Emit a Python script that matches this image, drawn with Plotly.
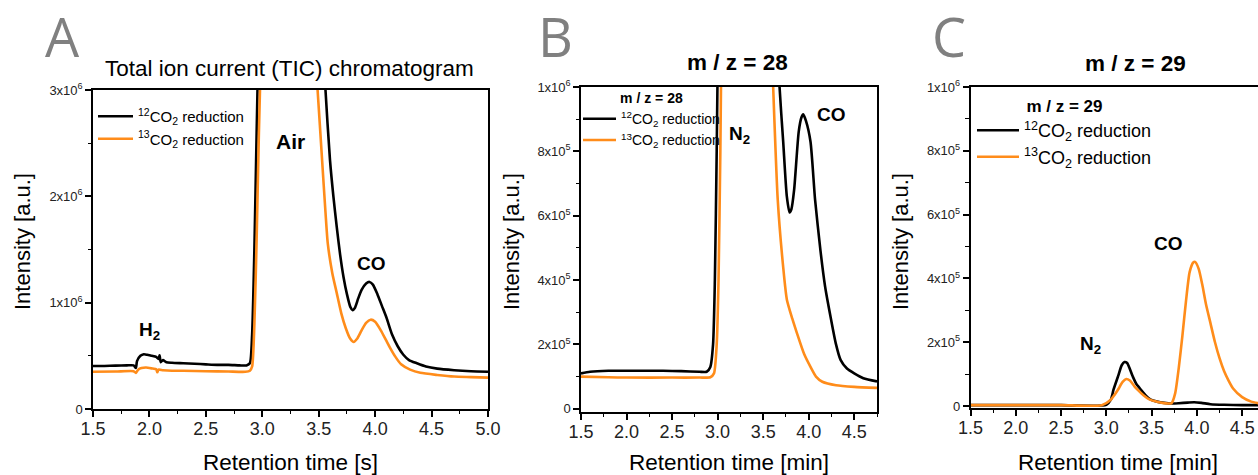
import plotly.graph_objects as go

# ---------------- Panel A: total ion current (TIC) ----------------
tic_t_12 = [1.50, 1.60, 1.70, 1.80, 1.86, 1.88, 1.89, 1.92, 1.95, 1.98, 2.02, 2.06, 2.08, 2.09,
            2.10, 2.12, 2.15, 2.20, 2.30, 2.40, 2.50, 2.60, 2.70, 2.80, 2.86, 2.89, 2.91, 2.93,
            2.95, 2.97, 3.00, 3.10, 3.25, 3.40, 3.50, 3.56, 3.60, 3.63, 3.66, 3.69, 3.72, 3.75,
            3.78, 3.80, 3.82, 3.85, 3.88, 3.92, 3.95, 3.98, 4.02, 4.06, 4.10, 4.15, 4.20, 4.25,
            4.30, 4.37, 4.45, 4.55, 4.70, 4.85, 5.00]
tic_i_12 = [0.405, 0.405, 0.408, 0.410, 0.410, 0.385, 0.450, 0.500, 0.515, 0.510, 0.500, 0.490, 0.470, 0.505,
            0.440, 0.460, 0.440, 0.435, 0.430, 0.425, 0.420, 0.415, 0.415, 0.410, 0.410, 0.430, 0.700, 1.500,
            2.600, 3.600, 4.500, 5.800, 6.200, 5.400, 4.300, 3.000, 2.340, 2.000, 1.710, 1.450, 1.240, 1.080,
            0.960, 0.930, 0.950, 1.040, 1.120, 1.180, 1.195, 1.170, 1.080, 0.970, 0.860, 0.700, 0.590, 0.510,
            0.460, 0.430, 0.400, 0.380, 0.365, 0.355, 0.350]

tic_t_13 = [1.50, 1.70, 1.86, 1.88, 1.90, 1.93, 1.97, 2.03, 2.06, 2.07, 2.08, 2.12, 2.20, 2.30,
            2.50, 2.70, 2.85, 2.89, 2.91, 2.93, 2.95, 2.97, 2.99, 3.02, 3.15, 3.30, 3.45, 3.49,
            3.53, 3.56, 3.58, 3.62, 3.66, 3.70, 3.74, 3.78, 3.81, 3.84, 3.88, 3.92, 3.96, 4.00,
            4.05, 4.10, 4.13, 4.18, 4.23, 4.31, 4.40, 4.55, 4.70, 4.85, 5.00]
tic_i_13 = [0.350, 0.352, 0.355, 0.340, 0.370, 0.385, 0.390, 0.380, 0.375, 0.345, 0.370, 0.365, 0.360, 0.360,
            0.355, 0.352, 0.350, 0.360, 0.400, 0.800, 1.600, 2.600, 3.400, 4.300, 5.500, 5.200, 3.600, 3.000,
            2.340, 1.850, 1.560, 1.280, 1.090, 0.900, 0.760, 0.660, 0.630, 0.660, 0.740, 0.810, 0.840, 0.820,
            0.740, 0.640, 0.580, 0.490, 0.420, 0.370, 0.340, 0.320, 0.305, 0.300, 0.295]

# ---------------- Panel B: m/z = 28 ----------------
mz28_t_12 = [1.50, 1.60, 1.80, 2.00, 2.20, 2.40, 2.60, 2.80, 2.88, 2.92, 2.95, 2.97, 2.99, 3.01,
             3.05, 3.20, 3.50, 3.62, 3.68, 3.72, 3.76, 3.79, 3.81, 3.84, 3.89, 3.92, 3.94, 3.97,
             4.02, 4.07, 4.13, 4.18, 4.24, 4.30, 4.35, 4.42, 4.50, 4.60, 4.75]
mz28_i_12 = [0.110, 0.115, 0.118, 0.118, 0.118, 0.118, 0.117, 0.115, 0.115, 0.130, 0.200, 0.400, 0.800, 1.300,
             2.200, 3.000, 2.200, 1.400, 1.000, 0.830, 0.660, 0.610, 0.620, 0.680, 0.860, 0.905, 0.915, 0.895,
             0.830, 0.650, 0.490, 0.380, 0.286, 0.200, 0.152, 0.125, 0.110, 0.095, 0.085]

mz28_t_13 = [1.50, 1.80, 2.00, 2.50, 2.80, 2.92, 2.96, 2.99, 3.01, 3.03, 3.05, 3.20, 3.50, 3.58,
             3.61, 3.66, 3.72, 3.76, 3.82, 3.87, 3.95, 4.02, 4.08, 4.15, 4.30, 4.50, 4.75]
mz28_i_13 = [0.100, 0.098, 0.097, 0.097, 0.097, 0.098, 0.110, 0.200, 0.400, 0.800, 1.300, 2.800, 1.800, 1.250,
             1.000, 0.650, 0.440, 0.340, 0.280, 0.236, 0.170, 0.130, 0.100, 0.084, 0.073, 0.068, 0.065]

# ---------------- Panel C: m/z = 29 ----------------
mz29_t_12 = [1.50, 2.00, 2.50, 3.00, 3.05, 3.08, 3.13, 3.17, 3.20, 3.23, 3.29, 3.33, 3.38, 3.44,
             3.49, 3.56, 3.64, 3.72, 3.80, 3.90, 3.97, 4.05, 4.15, 4.30, 4.50, 4.70]
mz29_i_12 = [0.003, 0.003, 0.003, 0.004, 0.020, 0.052, 0.094, 0.128, 0.138, 0.135, 0.094, 0.070, 0.052, 0.032,
             0.020, 0.014, 0.010, 0.008, 0.009, 0.011, 0.012, 0.010, 0.006, 0.004, 0.003, 0.003]

mz29_t_13 = [1.50, 2.00, 2.50, 2.95, 3.05, 3.09, 3.13, 3.18, 3.22, 3.26, 3.31, 3.35, 3.41, 3.47,
             3.55, 3.62, 3.68, 3.72, 3.76, 3.80, 3.84, 3.88, 3.92, 3.96, 3.98, 4.02, 4.06, 4.10,
             4.15, 4.20, 4.25, 4.30, 4.35, 4.40, 4.50, 4.60, 4.70]
mz29_i_13 = [0.003, 0.003, 0.003, 0.003, 0.020, 0.035, 0.052, 0.076, 0.085, 0.080, 0.062, 0.050, 0.034, 0.022,
             0.014, 0.010, 0.008, 0.009, 0.040, 0.120, 0.220, 0.330, 0.420, 0.450, 0.452, 0.430, 0.380, 0.320,
             0.260, 0.200, 0.150, 0.110, 0.080, 0.055, 0.028, 0.014, 0.008]

series_names = ["<sup>12</sup>CO<sub>2</sub> reduction", "<sup>13</sup>CO<sub>2</sub> reduction"]
series_colors = ["#000000", "#ff8c1a"]

# tick labels
ticks_a_vals = [0, 1e6, 2e6, 3e6]
ticks_a_text = ["0", "1x10<sup>6</sup>", "2x10<sup>6</sup>", "3x10<sup>6</sup>"]
ticks_bc_vals = [0, 2e5, 4e5, 6e5, 8e5, 1e6]
ticks_bc_text = ["0", "2x10<sup>5</sup>", "4x10<sup>5</sup>", "6x10<sup>5</sup>", "8x10<sup>5</sup>", "1x10<sup>6</sup>"]

W, H = 1258, 475
FONT = "Liberation Sans, Arial, sans-serif"


def px(x):
    return x / W


def py(y):
    return 1 - y / H


def scaled(vals):
    return [v * 1e6 for v in vals]


fig = go.Figure()

panels = [
    ("x", "y", "legend", [(tic_t_12, tic_i_12), (tic_t_13, tic_i_13)]),
    ("x2", "y2", "legend2", [(mz28_t_12, mz28_i_12), (mz28_t_13, mz28_i_13)]),
    ("x3", "y3", "legend3", [(mz29_t_12, mz29_i_12), (mz29_t_13, mz29_i_13)]),
]
for xa, ya, lg, data in panels:
    for (t, i), name, col in zip(data, series_names, series_colors):
        fig.add_trace(go.Scatter(
            x=t, y=scaled(i), mode="lines", name=name,
            line=dict(color=col, width=2.6, shape="spline", smoothing=0.6),
            xaxis=xa, yaxis=ya, legend=lg, showlegend=True,
        ))

axis_common = dict(
    showgrid=False, zeroline=False, showline=True, linecolor="black", linewidth=1.5,
    ticks="outside", ticklen=6, tickwidth=1.5, tickcolor="black", automargin=False,
)
x_common = dict(axis_common, tickmode="linear", tick0=1.5, dtick=0.5, tickformat=".1f",
                tickfont=dict(family=FONT, size=18, color="#222"), ticklabelstandoff=-3,
                minor=dict(ticks="outside", ticklen=3.5, tickwidth=1.3, tickcolor="black", dtick=0.25, tick0=1.5))
y_font = dict(family=FONT, size=13, color="#222")

fig.update_layout(
    template="none",
    width=W, height=H, margin=dict(l=0, r=0, t=0, b=0, pad=0, autoexpand=False),
    plot_bgcolor="white", paper_bgcolor="white",
    font=dict(family=FONT, color="black"),
    xaxis=dict(x_common, domain=[px(93), px(488)], range=[1.5, 5.0], anchor="y", mirror=True),
    yaxis=dict(axis_common, domain=[py(409), py(90)], range=[0, 3e6], anchor="x", mirror=True,
               tickmode="array", tickvals=ticks_a_vals, ticktext=ticks_a_text, tickfont=y_font,
               minor=dict(ticks="outside", ticklen=3.5, tickwidth=1.3, tickcolor="black",
                          tickvals=[0.5e6, 1.5e6, 2.5e6])),
    xaxis2=dict(x_common, domain=[px(581), px(877)], range=[1.5, 4.75], anchor="y2", mirror=True),
    yaxis2=dict(axis_common, domain=[py(412), py(87)], range=[-0.01e6, 1e6], anchor="x2", mirror=True,
                tickmode="array", tickvals=ticks_bc_vals, ticktext=ticks_bc_text, tickfont=y_font,
                minor=dict(ticks="outside", ticklen=3.5, tickwidth=1.3, tickcolor="black",
                           tickvals=[1e5, 3e5, 5e5, 7e5, 9e5])),
    xaxis3=dict(x_common, domain=[px(970.5), 1.0], range=[1.5, 4.675], anchor="y3", mirror=True),
    yaxis3=dict(axis_common, domain=[py(408), py(87)], range=[-0.006e6, 1e6], anchor="x3", mirror=False,
                tickmode="array", tickvals=ticks_bc_vals, ticktext=ticks_bc_text, tickfont=y_font,
                minor=dict(ticks="outside", ticklen=3.5, tickwidth=1.3, tickcolor="black",
                           tickvals=[1e5, 3e5, 5e5, 7e5, 9e5])),
    legend=dict(x=px(93), y=py(100), xanchor="left", yanchor="top", bgcolor="rgba(0,0,0,0)",
                font=dict(family=FONT, size=15, color="black"), tracegroupgap=0, itemwidth=35),
    legend2=dict(x=px(578), y=py(85), xanchor="left", yanchor="top", bgcolor="rgba(0,0,0,0)",
                 font=dict(family=FONT, size=14, color="black"), itemwidth=33,
                 title=dict(text="<b>m / z = 28</b>", side="top center",
                            font=dict(family=FONT, size=14, color="black"))),
    legend3=dict(x=px(972), y=py(90), xanchor="left", yanchor="top", bgcolor="rgba(0,0,0,0)",
                 font=dict(family=FONT, size=18, color="black"), itemwidth=42,
                 title=dict(text="<b>m / z = 29</b>", side="top center",
                            font=dict(family=FONT, size=17, color="black"))),
)

ann = []
# panel letters
for letter, cx in [("A", 62), ("B", 555), ("C", 949)]:
    ann.append(dict(text=letter, x=px(cx), y=py(36), xref="paper", yref="paper", showarrow=False,
                    xanchor="center", yanchor="middle",
                    font=dict(family="Open Sans, Noto Sans, sans-serif", size=54, color="#808080")))
# panel titles
ann.append(dict(text="Total ion current (TIC) chromatogram", x=px(289), y=py(68), xref="paper", yref="paper",
                showarrow=False, xanchor="center", yanchor="middle", font=dict(family=FONT, size=22.5, color="black")))
ann.append(dict(text="<b>m / z = 28</b>", x=px(737), y=py(62), xref="paper", yref="paper",
                showarrow=False, xanchor="center", yanchor="middle", font=dict(family=FONT, size=22.5, color="black")))
ann.append(dict(text="<b>m / z = 29</b>", x=px(1135), y=py(63), xref="paper", yref="paper",
                showarrow=False, xanchor="center", yanchor="middle", font=dict(family=FONT, size=22.5, color="black")))
# axis titles
for cx in [22, 511, 900]:
    ann.append(dict(text="Intensity [a.u.]", x=px(cx), y=py(242), xref="paper", yref="paper", textangle=-90,
                    showarrow=False, xanchor="center", yanchor="middle",
                    font=dict(family=FONT, size=22, color="black")))
for cx, txt in [(290, "Retention time [s]"), (729, "Retention time [min]"), (1118, "Retention time [min]")]:
    ann.append(dict(text=txt, x=px(cx), y=py(462), xref="paper", yref="paper",
                    showarrow=False, xanchor="center", yanchor="middle",
                    font=dict(family=FONT, size=22.5, color="black")))
# peak labels
peak_labels = [
    ("x", "y", 2.0, 0.73e6, "<b>H<sub>2</sub></b>", 19),
    ("x", "y", 3.25, 2.52e6, "<b>Air</b>", 21),
    ("x", "y", 3.97, 1.37e6, "<b>CO</b>", 19),
    ("x2", "y2", 3.24, 0.85e6, "<b>N<sub>2</sub></b>", 19),
    ("x2", "y2", 4.25, 0.913e6, "<b>CO</b>", 19),
    ("x3", "y3", 2.83, 0.19e6, "<b>N<sub>2</sub></b>", 19),
    ("x3", "y3", 3.69, 0.51e6, "<b>CO</b>", 19),
]
for xr, yr, xv, yv, txt, fs in peak_labels:
    ann.append(dict(text=txt, x=xv, y=yv, xref=xr, yref=yr, showarrow=False,
                    xanchor="center", yanchor="middle", font=dict(family=FONT, size=fs, color="black")))

fig.update_layout(annotations=ann)
fig.write_html("out.html")
